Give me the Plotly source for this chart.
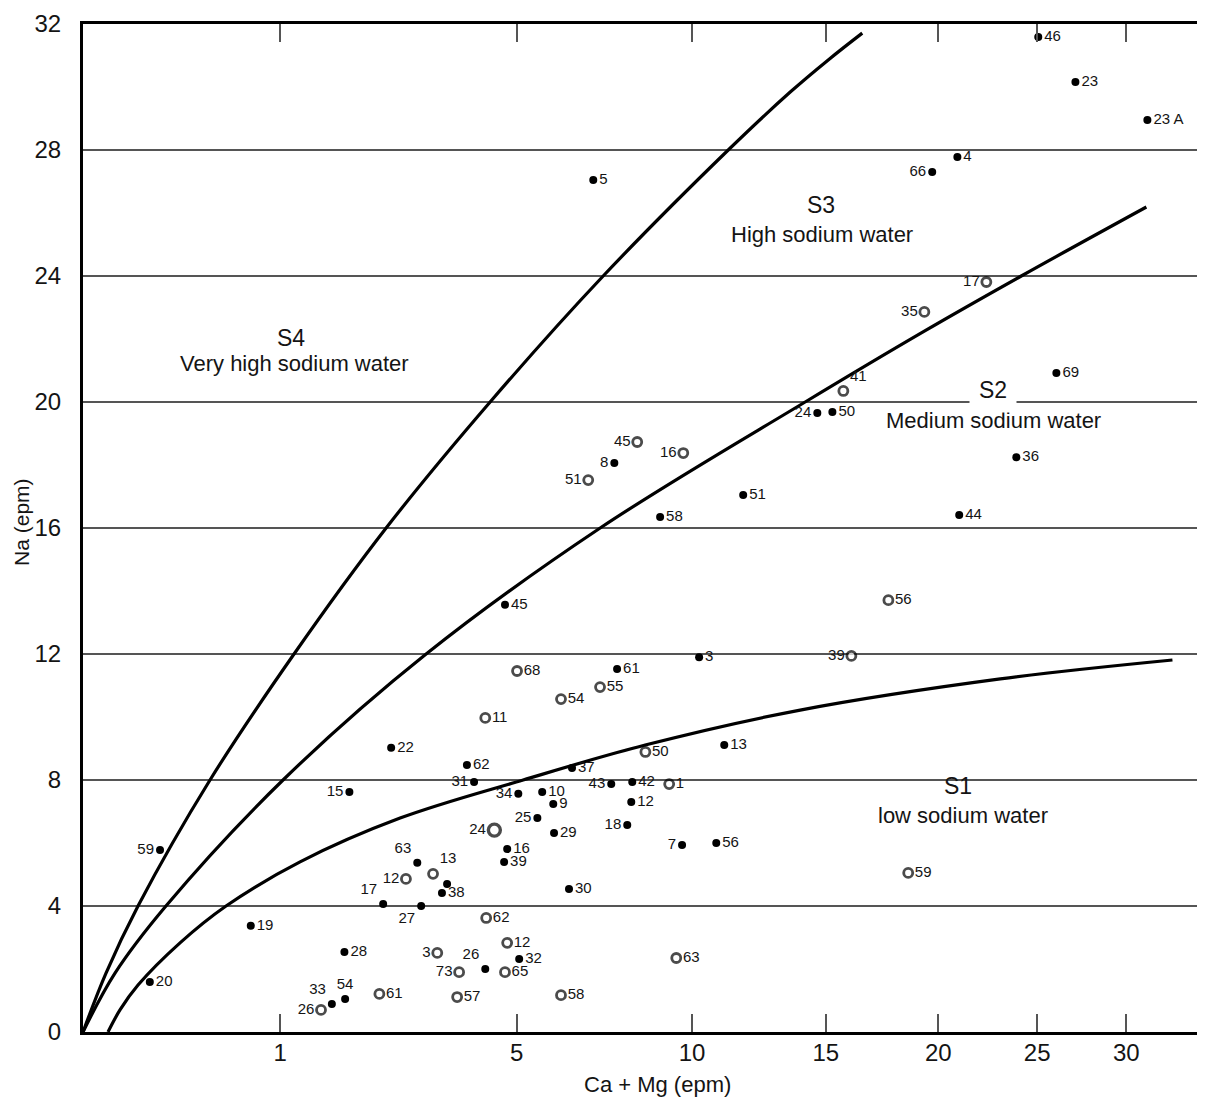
import numpy as np
import plotly.graph_objects as go

# ---------------- data ----------------
x_ticks = [1, 5, 10, 15, 20, 25, 30]
y_ticks = [0, 4, 8, 12, 16, 20, 24, 28, 32]
x_max = 34.8

# boundary curves (Ca+Mg, Na)
s4_s3_x = [0, 0.0125, 0.074, 0.408, 1.150, 2.408, 4.396, 7.249, 11.252, 13.569, 15.099, 16.539]
s4_s3_y = [0, 1.87, 4.0, 8.0, 12.0, 16.0, 20.0, 24.0, 28.0, 29.84, 30.86, 31.71]

s3_s2_x = [0, 0.0245, 0.171, 1.031, 3.101, 7.164, 14.16, 19.34, 24.16, 31.19]
s3_s2_y = [0, 1.87, 4.0, 8.0, 12.0, 16.0, 20.0, 22.25, 24.0, 26.19]

s2_s1_x = [0.0148, 0.0329, 0.074, 0.2355, 0.520, 1.218, 2.640, 5.155, 8.495, 13.96, 23.07, 32.77]
s2_s1_y = [0, 0.70, 1.49, 2.83, 4.0, 5.40, 6.79, 8.0, 9.11, 10.22, 11.21, 11.81]

# filled-dot samples
dot_labels = ["46", "23", "23 A", "4", "66", "5", "69", "24", "50", "8", "51", "58", "36", "44",
              "45", "61", "3", "13", "22", "62", "37", "15", "31", "34", "10", "43", "42", "9",
              "12", "25", "29", "18", "7", "56", "59", "16", "39", "63", "", "38", "30", "17",
              "27", "19", "28", "20", "32", "26", "54", "33"]
dot_x = [25.06, 27.09, 31.25, 20.92, 19.71, 6.97, 26.04, 14.65, 15.27, 7.57, 11.79, 8.96, 23.90, 21.01,
         4.73, 7.65, 10.24, 11.11, 2.49, 3.90, 6.39, 1.85, 4.05, 5.04, 5.62, 7.48, 8.10, 5.90,
         8.07, 5.50, 5.92, 7.95, 9.67, 10.83, 0.147, 4.78, 4.71, 2.94, 3.50, 3.40, 6.31, 2.36,
         3.01, 0.72, 1.78, 0.11, 5.06, 4.29, 1.79, 1.61]
dot_y = [31.59, 30.16, 28.95, 27.78, 27.30, 27.05, 20.92, 19.65, 19.68, 18.06, 17.05, 16.35, 18.25, 16.41,
         13.56, 11.52, 11.90, 9.11, 9.02, 8.48, 8.38, 7.62, 7.94, 7.56, 7.62, 7.87, 7.94, 7.24,
         7.30, 6.79, 6.32, 6.57, 5.94, 6.00, 5.78, 5.81, 5.40, 5.37, 4.70, 4.41, 4.54, 4.06,
         4.00, 3.37, 2.54, 1.59, 2.32, 2.00, 1.05, 0.89]

# open-circle samples
ring_labels = ["17", "35", "41", "45", "16", "51", "56", "39", "68", "55", "54", "11", "50", "1",
               "24", "12", "13", "59", "62", "12", "3", "73", "65", "63", "57", "58", "61", "26"]
ring_x = [22.36, 19.34, 15.73, 8.25, 9.71, 6.83, 17.69, 16.07, 5.01, 7.16, 6.10, 4.29, 8.50, 9.25,
          4.49, 2.74, 3.23, 18.59, 4.31, 4.78, 3.31, 3.74, 4.73, 9.48, 3.70, 6.10, 2.30, 1.47]
ring_y = [23.81, 22.86, 20.35, 18.73, 18.38, 17.52, 13.71, 11.94, 11.46, 10.95, 10.57, 9.97, 8.89, 7.87,
          6.41, 4.86, 5.02, 5.05, 3.62, 2.83, 2.51, 1.90, 1.90, 2.35, 1.11, 1.17, 1.21, 0.70]

# ---------------- styling (label placement) ----------------
SIDE = {"R": "middle right", "L": "middle left", "TL": "top left", "TR": "top right",
        "TC": "top center", "BL": "bottom left"}
dot_side = ["R", "R", "R", "R", "L", "R", "R", "L", "R", "L", "R", "R", "R", "R",
            "R", "R", "R", "R", "R", "R", "R", "L", "L", "L", "R", "L", "R", "R",
            "R", "L", "R", "L", "L", "R", "L", "R", "R", "TL", "R", "R", "R", "TL",
            "BL", "R", "R", "R", "R", "TL", "TC", "TL"]
ring_side = ["L", "L", "TR", "L", "L", "L", "R", "L", "R", "R", "R", "R", "R", "R",
             "L", "L", "TR", "R", "R", "R", "L", "L", "R", "R", "R", "R", "R", "L"]
ring_size = [12 if (lab == "24" and i == 14) else 9 for i, lab in enumerate(ring_labels)]
ring_lw = [3.4 if s > 9 else 2.8 for s in ring_size]

P = 0.49


def T(v):
    return np.power(np.asarray(v, dtype=float), P)


FONT = "Liberation Sans, Arial, Helvetica, sans-serif"
INK = "#141414"
GRID = "#555555"

fig = go.Figure()

for cx, cy in [(s4_s3_x, s4_s3_y), (s3_s2_x, s3_s2_y), (s2_s1_x, s2_s1_y)]:
    fig.add_trace(go.Scatter(x=T(cx), y=cy, mode="lines",
                             line=dict(color="black", width=3.2, shape="spline", smoothing=1.0),
                             hoverinfo="skip", showlegend=False))

fig.add_trace(go.Scatter(x=T(dot_x), y=dot_y, mode="markers+text", text=dot_labels,
                         textposition=[SIDE[s] for s in dot_side],
                         textfont=dict(family=FONT, size=15, color=INK),
                         marker=dict(color="black", size=8, symbol="circle"),
                         showlegend=False))

fig.add_trace(go.Scatter(x=T(ring_x), y=ring_y, mode="markers+text", text=ring_labels,
                         textposition=[SIDE[s] for s in ring_side],
                         textfont=dict(family=FONT, size=15, color=INK),
                         marker=dict(color="white", size=ring_size, symbol="circle",
                                     line=dict(color="black", width=ring_lw)),
                         showlegend=False))

# region labels
region_text = [("S4", 0.1854, 0.6885, 23), ("Very high sodium water", 0.1889, 0.6627, 22),
               ("S3", 0.6578, 0.8204, 23), ("High sodium water", 0.6586, 0.7907, 22),
               ("Medium sodium water", 0.8119, 0.6062, 22),
               ("S1", 0.7799, 0.2440, 23), ("low sodium water", 0.7843, 0.2143, 22)]
for txt, ax_, ay_, fs in region_text:
    fig.add_annotation(x=ax_, y=ay_, xref="paper", yref="paper", text=txt, showarrow=False,
                       font=dict(family=FONT, size=fs, color=INK), xanchor="center", yanchor="middle")
fig.add_annotation(x=0.8111, y=0.6369, xref="paper", yref="paper", text="S2", showarrow=False,
                   font=dict(family=FONT, size=23, color=INK), bgcolor="white", borderpad=9,
                   xanchor="center", yanchor="middle")

# axis titles
fig.add_annotation(x=0.5116, y=-0.0516, xref="paper", yref="paper", text="Ca + Mg (epm)",
                   showarrow=False, font=dict(family=FONT, size=22, color=INK),
                   xanchor="center", yanchor="middle")
fig.add_annotation(x=-0.0544, y=0.506, xref="paper", yref="paper", text="Na (epm)", textangle=-90,
                   showarrow=False, font=dict(family=FONT, size=21, color=INK),
                   xanchor="center", yanchor="middle")

# the page body has an 8px default margin, so the figure is sized/margined to compensate
fig.update_layout(
    width=1197, height=1090,
    margin=dict(l=75, r=0, t=16, b=66),
    paper_bgcolor="white", plot_bgcolor="white",
    font=dict(family=FONT, color=INK),
    showlegend=False,
    xaxis=dict(range=[0, float(T(x_max))], tickvals=T(x_ticks), ticktext=[str(v) for v in x_ticks],
               ticks="inside", ticklen=18, tickwidth=1.5, tickcolor=GRID,
               showline=True, linewidth=3, linecolor="black", mirror="ticks",
               showgrid=False, zeroline=False, tickfont=dict(family=FONT, size=24, color=INK),
               ticklabelstandoff=-3),
    yaxis=dict(range=[0, 32], tickvals=y_ticks, ticktext=[str(v) for v in y_ticks],
               ticks="", showline=True, linewidth=3, linecolor="black", mirror=False,
               showgrid=True, gridcolor=GRID, gridwidth=1.5, zeroline=False,
               tickfont=dict(family=FONT, size=24, color=INK), ticklabelstandoff=14),
    yaxis2=dict(range=[0, 32], overlaying="y", anchor="x", side="left",
                tickvals=y_ticks[1:-1], ticks="outside", ticklen=16, tickwidth=1.5, tickcolor=GRID,
                showticklabels=False, showgrid=False, showline=False, zeroline=False),
)

fig.write_html("out.html")
